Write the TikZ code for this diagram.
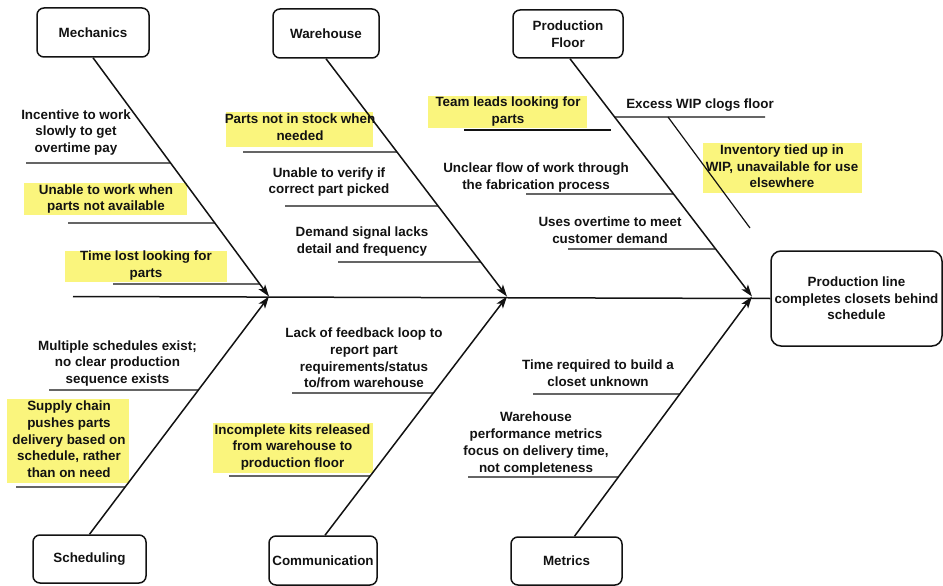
\documentclass[tikz,border=0pt]{standalone}
\usepackage{fontspec}
\newfontfamily\labelfont{Liberation Sans}
\usetikzlibrary{arrows.meta}
\definecolor{ink}{RGB}{18,18,18}
\definecolor{marker}{RGB}{250,245,125}
\tikzset{
  lbl/.style={align=center, inner sep=0pt, text=ink,
    font=\labelfont\bfseries\fontsize{13.4}{16.7}\selectfont},
  cat/.style={lbl, draw=ink, line width=1.5pt, rounded corners=7pt,
    minimum width=110pt, minimum height=48pt},
  effect/.style={cat, minimum width=171pt, minimum height=95pt, rounded corners=10pt},
  spine/.style={draw=ink, line width=1.5pt},
  bone/.style={draw=ink, line width=1.5pt, -{Stealth[length=12pt,width=8pt,inset=3pt]}},
  rib/.style={draw=ink, line width=1.2pt},
}
\begin{document}
\begin{tikzpicture}[x=1pt, y=-1pt]
\useasboundingbox (0,0) rectangle (943,586);

% highlighter marks behind the labels
\fill[marker] (24,183) rectangle (187,215);
\fill[marker] (65,251) rectangle (227,282);
\fill[marker] (226,112) rectangle (373,147);
\fill[marker] (428,96) rectangle (587,128);
\fill[marker] (703,143) rectangle (862,193);
\fill[marker] (7,399) rectangle (129,483);
\fill[marker] (213,423) rectangle (373,473);

% category boxes and the effect
\node[cat, minimum width=112pt, minimum height=49pt] (mech) at (93,32.5) {Mechanics};
\node[cat, minimum width=106pt, minimum height=49pt] (ware) at (326,33.5) {Warehouse};
\node[cat] (floor) at (568,34) {Production\\Floor};
\node[cat, minimum width=113pt] (sched) at (89.5,559) {Scheduling};
\node[cat, minimum width=108pt, minimum height=49pt] (comm) at (323,560.5) {Communication};
\node[cat, minimum width=111pt] (metr) at (566.5,561) {Metrics};
\node[effect] (eff) at (856.5,298.5) {Production line\\completes closets behind\\schedule};

% spine and junctions
\coordinate (tail) at (73,296.5);
\coordinate (j1) at (269,296.5);
\coordinate (j2) at (507,296.5);
\coordinate (j3) at (752,296.5);
\draw[spine] (tail) -- (eff.west);

% bone roots
\coordinate (mtop) at (mech.south);
\coordinate (wtop) at (ware.south);
\coordinate (ftop) at ([xshift=2pt]floor.south);
\coordinate (stop) at (sched.north);
\coordinate (ctop) at ([xshift=2pt]comm.north);
\coordinate (ttop) at ([xshift=8pt]metr.north);

\draw[bone] (mtop) -- (j1);
\draw[bone] (stop) -- (j1);
\draw[bone] (wtop) -- (j2);
\draw[bone] (ctop) -- (j2);
\draw[bone] (ftop) -- (j3);
\draw[bone] (ttop) -- (j3);

% ribs: Mechanics
\draw[rib] (26,163) -- (intersection of mtop--j1 and 0,163--1,163);
\draw[rib] (68,223) -- (intersection of mtop--j1 and 0,223--1,223);
\draw[rib] (113,284) -- (intersection of mtop--j1 and 0,284--1,284);
% ribs: Warehouse
\draw[rib] (243,152) -- (intersection of wtop--j2 and 0,152--1,152);
\draw[rib] (285,206) -- (intersection of wtop--j2 and 0,206--1,206);
\draw[rib] (338,262) -- (intersection of wtop--j2 and 0,262--1,262);
% ribs: Production Floor
\draw[rib] (464,130) -- (611,130);
\draw[rib] (intersection of ftop--j3 and 0,117--1,117) -- (765,117);
\coordinate (wipA) at (668,117);
\coordinate (wipB) at (750,228);
\draw[rib] (wipA) -- (wipB);
\draw[rib] (526,194) -- (intersection of ftop--j3 and 0,194--1,194);
\draw[rib] (568,249) -- (intersection of ftop--j3 and 0,249--1,249);
% ribs: Scheduling
\draw[rib] (49,390) -- (intersection of stop--j1 and 0,390--1,390);
\draw[rib] (16,487) -- (intersection of stop--j1 and 0,487--1,487);
% ribs: Communication
\draw[rib] (292,393) -- (intersection of ctop--j2 and 0,393--1,393);
\draw[rib] (229,476) -- (intersection of ctop--j2 and 0,476--1,476);
% ribs: Metrics
\draw[rib] (533,394) -- (intersection of ttop--j3 and 0,394--1,394);
\draw[rib] (468,477) -- (intersection of ttop--j3 and 0,477--1,477);

% causes
\node[lbl] (m1) at (76,132.5) {Incentive to work\\slowly to get\\overtime pay};
\node[lbl] (m2) at (106,199) {Unable to work when\\parts not available};
\node[lbl] (m3) at (146,265.5) {Time lost looking for\\parts};
\node[lbl] (w1) at (300,127) {Parts not in stock when\\needed};
\node[lbl] (w2) at (329,182) {Unable to verify if\\correct part picked};
\node[lbl] (w3) at (362,241.5) {Demand signal lacks\\detail and frequency};
\node[lbl] (p1) at (508,111.5) {Team leads looking for\\parts};
\node[lbl] (p2) at (700,105) {Excess WIP clogs floor};
\node[lbl] (p3) at (782,166.5) {Inventory tied up in\\WIP, unavailable for use\\elsewhere};
\node[lbl] (p4) at (536,177.5) {Unclear flow of work through\\the fabrication process};
\node[lbl] (p5) at (610,230.5) {Uses overtime to meet\\customer demand};
\node[lbl] (s1) at (117.5,363.5) {Multiple schedules exist;\\no clear production\\sequence exists};
\node[lbl] (s2) at (69,439.5) {Supply chain\\pushes parts\\delivery based on\\schedule, rather\\than on need};
\node[lbl] (c1) at (364,358) {Lack of feedback loop to\\report part\\requirements/status\\to/from warehouse};
\node[lbl] (c2) at (292.5,447.5) {Incomplete kits released\\from warehouse to\\production floor};
\node[lbl] (t1) at (598,373.5) {Time required to build a\\closet unknown};
\node[lbl] (t2) at (536,443.5) {Warehouse\\performance metrics\\focus on delivery time,\\not completeness};
\end{tikzpicture}
\end{document}
